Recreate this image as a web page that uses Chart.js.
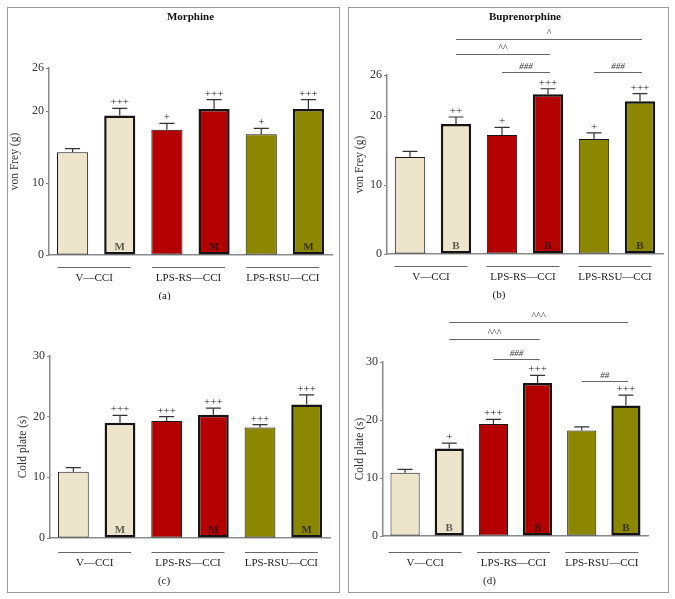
<!DOCTYPE html>
<html><head><meta charset="utf-8">
<script src="https://cdn.jsdelivr.net/npm/chart.js@4/dist/chart.umd.min.js"></script>
<style>
html,body{margin:0;padding:0;background:#fff;width:675px;height:599px;overflow:hidden;}
.box{position:absolute;border:1px solid #9a9a9a;box-sizing:border-box;}
canvas{position:absolute;}
</style></head><body>
<div class="box" style="left:7px;top:7px;width:333px;height:586px;"></div>
<div class="box" style="left:348px;top:7px;width:321px;height:586px;"></div>
<canvas id="ca" width="330" height="292" style="left:8px;top:8px"></canvas>
<canvas id="cb" width="318" height="292" style="left:349px;top:8px"></canvas>
<canvas id="cc" width="330" height="291" style="left:8px;top:300px"></canvas>
<canvas id="cd" width="318" height="291" style="left:349px;top:300px"></canvas>
<script>
// ---- data ----
const categories = ['V—CCI', 'V—CCI + drug', 'LPS-RS—CCI', 'LPS-RS—CCI + drug', 'LPS-RSU—CCI', 'LPS-RSU—CCI + drug'];
const groupLabels = ['V—CCI', 'LPS-RS—CCI', 'LPS-RSU—CCI'];
const vonFreyTicks = [0, 10, 20, 26];
const coldPlateTicks = [0, 10, 20, 30];

const vonFreyMorphine = [14.3, 19.4, 17.4, 20.3, 16.8, 20.3];
const vonFreyMorphineSem = [0.5, 1.0, 0.9, 1.3, 0.8, 1.3];
const vonFreyMorphineSig = ['', '+++', '+', '+++', '+', '+++'];

const vonFreyBup = [14.1, 18.9, 17.3, 23.2, 16.7, 22.2];
const vonFreyBupSem = [0.8, 1.0, 1.1, 0.8, 0.9, 1.1];
const vonFreyBupSig = ['', '++', '+', '+++', '+', '+++'];

const coldMorphine = [10.9, 19.0, 19.3, 20.3, 18.2, 22.0];
const coldMorphineSem = [0.7, 1.2, 0.7, 1.1, 0.5, 1.6];
const coldMorphineSig = ['', '+++', '+++', '+++', '+++', '+++'];

const coldBup = [10.9, 15.1, 19.3, 26.4, 18.2, 22.5];
const coldBupSem = [0.6, 0.9, 0.8, 1.3, 0.6, 1.8];
const coldBupSig = ['', '+', '+++', '+++', '', '+++'];

// comparison brackets: bar index from, bar index to, level (axis units), label
const bracketsVonFreyBup = [[1, 5, 31.2, '^'], [1, 3, 29.1, '^^'], [2, 3, 26.4, '###'], [4, 5, 26.4, '###']];
const bracketsColdBup = [[1, 5, 36.9, '^^^'], [1, 3, 33.9, '^^^'], [2, 3, 30.6, '###'], [4, 5, 26.8, '##']];

const barColors = ['#ECE5CB', '#ECE5CB', '#B30000', '#B30000', '#8C8700', '#8C8700'];
const borderWidths = [1, 2.5, 1, 2.5, 1, 2.5];

const SERIF = '"Liberation Serif", "DejaVu Serif", serif';

const annot = {
  id: 'annot',
  afterDatasetsDraw(chart, args, o) {
    const ctx = chart.ctx, meta = chart.getDatasetMeta(0), ys = chart.scales.y, ca = chart.chartArea;
    const vals = chart.data.datasets[0].data;
    ctx.save();
    ctx.textAlign = 'center';
    meta.data.forEach((bar, i) => {
      const yTop = ys.getPixelForValue(vals[i] + o.sem[i]);
      ctx.strokeStyle = '#333'; ctx.lineWidth = 1.2;
      ctx.beginPath();
      ctx.moveTo(bar.x, bar.y); ctx.lineTo(bar.x, yTop);
      ctx.moveTo(bar.x - 7.5, yTop); ctx.lineTo(bar.x + 7.5, yTop);
      ctx.stroke();
      if (o.sig[i]) {
        ctx.fillStyle = '#222'; ctx.font = '11px ' + SERIF; ctx.textBaseline = 'alphabetic';
        ctx.fillText(o.sig[i], bar.x, yTop - 3);
      }
      if (i % 2 === 1) {
        ctx.fillStyle = 'rgba(0,0,0,0.62)'; ctx.font = 'bold 11px ' + SERIF; ctx.textBaseline = 'alphabetic';
        ctx.fillText(o.letter, bar.x, ca.bottom - 5);
      }
    });
    // brackets
    (o.brackets || []).forEach(([a, b, lvl, lab]) => {
      const y = Math.round(ys.getPixelForValue(lvl)) + 0.5;
      const x1 = meta.data[a].x, x2 = meta.data[b].x + 2;
      ctx.strokeStyle = '#666'; ctx.lineWidth = 1;
      ctx.beginPath(); ctx.moveTo(x1, y); ctx.lineTo(x2, y); ctx.stroke();
      ctx.fillStyle = '#333';
      ctx.font = (lab.includes('#') ? 'italic 9px ' : '10px ') + SERIF;
      ctx.textBaseline = 'alphabetic';
      ctx.fillText(lab, (x1 + x2) / 2, y - 4);
    });
    // group lines and labels
    for (let g = 0; g < 3; g++) {
      const m = (meta.data[2 * g].x + meta.data[2 * g + 1].x) / 2 - 2;
      const y = Math.round(ca.bottom + o.lineGap) + 0.5;
      ctx.strokeStyle = '#666'; ctx.lineWidth = 1;
      ctx.beginPath(); ctx.moveTo(m - 36.5, y); ctx.lineTo(m + 36.5, y); ctx.stroke();
      ctx.fillStyle = '#222'; ctx.font = '11px ' + SERIF; ctx.textBaseline = 'middle';
      ctx.fillText(groupLabels[g], m, ca.bottom + o.lineGap + 11);
    }
    ctx.textBaseline = 'middle'; ctx.font = '11px ' + SERIF; ctx.fillStyle = '#222';
    const cx = (ca.left + ca.right) / 2;
    ctx.fillText(o.panel, cx - 26, ca.bottom + o.lineGap + 29);
    if (o.title) {
      ctx.font = 'bold 11px ' + SERIF; ctx.fillStyle = '#111';
      ctx.fillText(o.title, cx, 9);
    }
    ctx.restore();
  }
};

function makePanel(id, values, sem, sig, ticks, yTitle, letter, panel, title, brackets, L, pad, titlePad, lineGap) {
  new Chart(document.getElementById(id), {
    type: 'bar',
    data: {
      labels: categories,
      datasets: [{
        data: values,
        backgroundColor: barColors,
        borderColor: '#151515',
        borderWidth: borderWidths,
        borderSkipped: false,
        barPercentage: 0.66,
        categoryPercentage: 1
      }]
    },
    options: {
      responsive: false,
      animation: false,
      layout: { padding: { left: 0, top: pad[0], right: pad[1], bottom: pad[2] } },
      plugins: {
        legend: { display: false },
        tooltip: { enabled: false },
        annot: { sem, sig, letter, panel, title, brackets, lineGap }
      },
      scales: {
        x: {
          grid: { display: false },
          ticks: { display: false },
          border: { display: true, color: '#8a8a8a', width: 1.5 },
          afterFit: s => { s.height = 0; }
        },
        y: {
          min: 0, max: ticks[ticks.length - 1],
          afterBuildTicks: s => { s.ticks = ticks.map(v => ({ value: v })); },
          afterFit: s => { s.width = L; },
          grid: { display: true, drawOnChartArea: false, drawTicks: true, tickLength: 3, color: '#8a8a8a', lineWidth: 1 },
          border: { display: true, color: '#8a8a8a', width: 1.5 },
          ticks: { font: { family: SERIF, size: 12 }, color: '#333', padding: 2 },
          title: { display: true, text: yTitle, font: { family: SERIF, size: 11.5 }, color: '#333', padding: { top: titlePad, bottom: 0 } }
        }
      }
    },
    plugins: [annot]
  });
}

makePanel('ca', vonFreyMorphine, vonFreyMorphineSem, vonFreyMorphineSig, vonFreyTicks, 'von Frey (g)', 'M', '(a)', 'Morphine', null, 41, [60, 6, 45], 0.5, 11.7);
makePanel('cb', vonFreyBup, vonFreyBupSem, vonFreyBupSig, vonFreyTicks, 'von Frey (g)', 'B', '(b)', 'Buprenorphine', bracketsVonFreyBup, 38, [67, 4, 46], 4, 12.4);
makePanel('cc', coldMorphine, coldMorphineSem, coldMorphineSig, coldPlateTicks, 'Cold plate (s)', 'M', '(c)', null, null, 42, [56, 8, 53], 8, 13.7);
makePanel('cd', coldBup, coldBupSem, coldBupSig, coldPlateTicks, 'Cold plate (s)', 'B', '(d)', null, bracketsColdBup, 34, [62, 19, 55], 4, 15.7);
</script>
</body></html>
